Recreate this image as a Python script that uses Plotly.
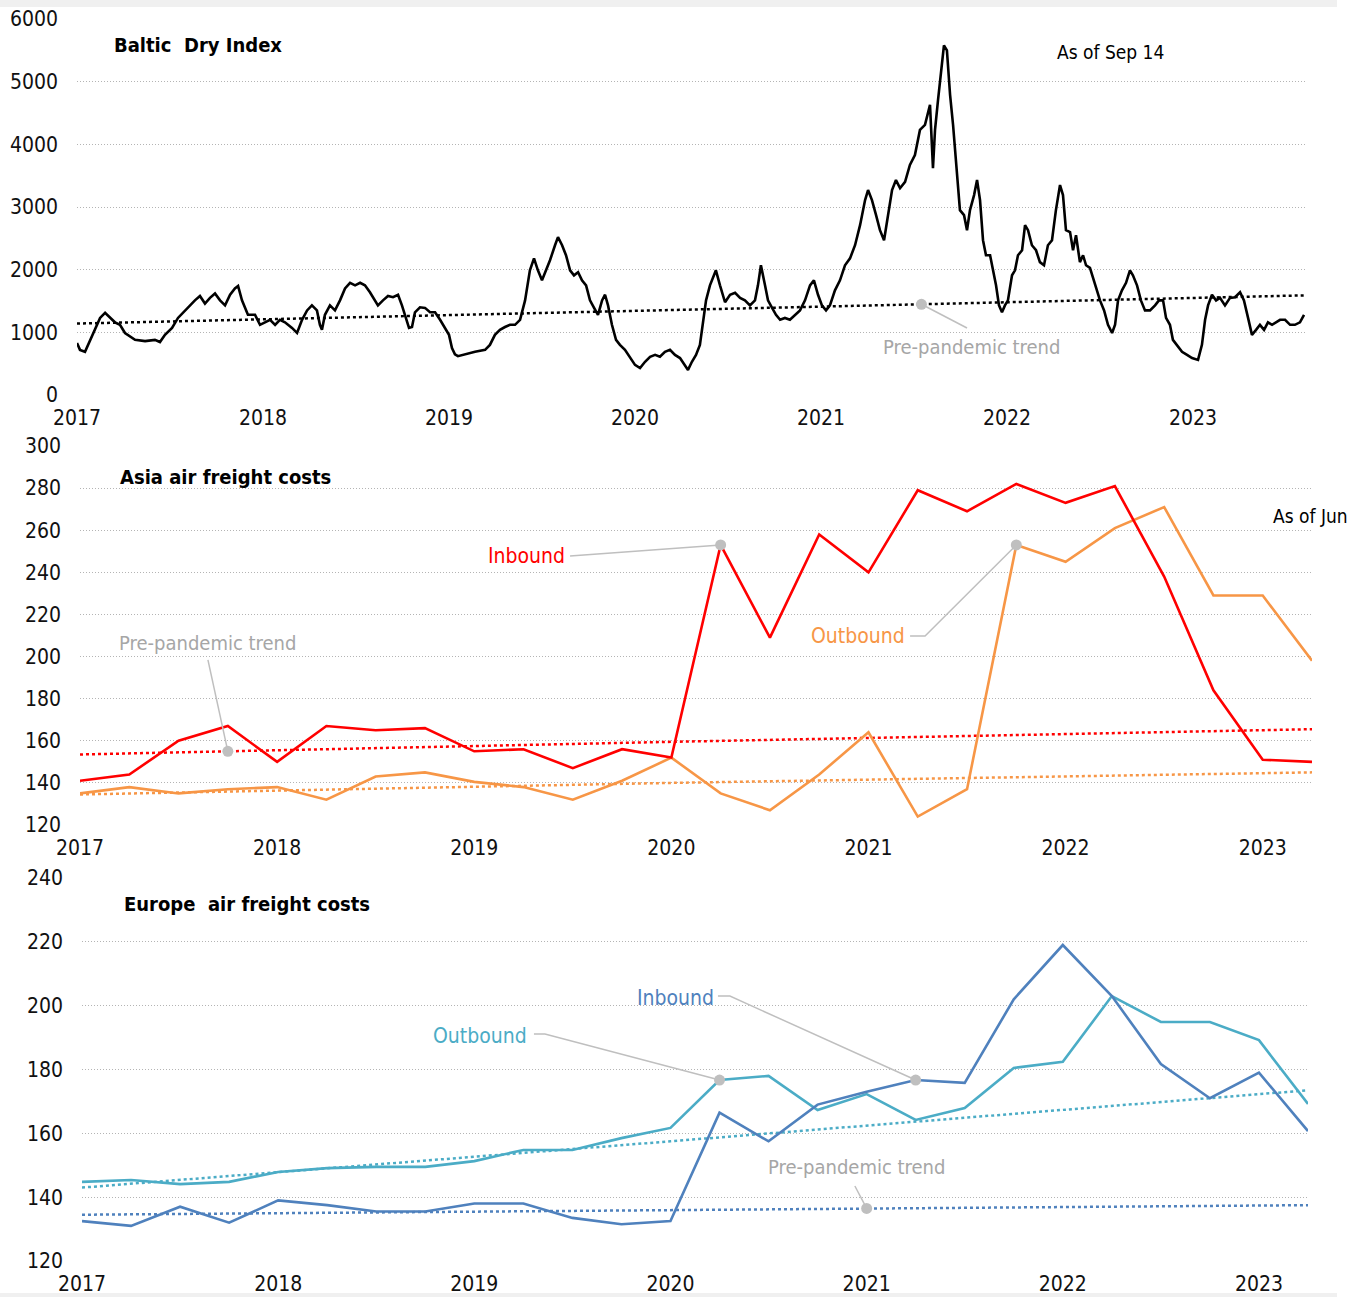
import plotly.graph_objects as go
import numpy as np

W, H = 1371, 1297
FONT = "DejaVu Sans Condensed, Liberation Sans Narrow, Arial Narrow, DejaVu Sans, sans-serif"

# ---------------- Panel 1: Baltic Dry Index ----------------
bdi_year = [
    2017.000, 2017.016, 2017.043, 2017.070, 2017.097, 2017.124, 2017.151, 2017.177, 2017.204, 2017.231,
    2017.258, 2017.312, 2017.366, 2017.419, 2017.446, 2017.473, 2017.511, 2017.543, 2017.581, 2017.608,
    2017.634, 2017.661, 2017.688, 2017.715, 2017.742, 2017.769, 2017.796, 2017.823, 2017.849, 2017.866,
    2017.887, 2017.919, 2017.957, 2017.984, 2018.011, 2018.038, 2018.065, 2018.091, 2018.118, 2018.156,
    2018.183, 2018.210, 2018.237, 2018.263, 2018.290, 2018.306, 2018.317, 2018.333, 2018.360, 2018.387,
    2018.414, 2018.441, 2018.468, 2018.495, 2018.522, 2018.548, 2018.575, 2018.602, 2018.618, 2018.645,
    2018.672, 2018.699, 2018.726, 2018.747, 2018.769, 2018.785, 2018.801, 2018.817, 2018.844, 2018.871,
    2018.898, 2018.925, 2018.952, 2018.978, 2019.000, 2019.016, 2019.032, 2019.048, 2019.086, 2019.140,
    2019.194, 2019.220, 2019.247, 2019.274, 2019.301, 2019.328, 2019.355, 2019.382, 2019.409, 2019.435,
    2019.457, 2019.478, 2019.500, 2019.522, 2019.543, 2019.570, 2019.586, 2019.608, 2019.629, 2019.651,
    2019.672, 2019.694, 2019.715, 2019.737, 2019.758, 2019.780, 2019.801, 2019.823, 2019.839, 2019.855,
    2019.876, 2019.898, 2019.919, 2019.946, 2019.973, 2020.000, 2020.027, 2020.054, 2020.081, 2020.108,
    2020.134, 2020.161, 2020.188, 2020.215, 2020.242, 2020.269, 2020.285, 2020.306, 2020.328, 2020.349,
    2020.366, 2020.382, 2020.403, 2020.425, 2020.435, 2020.457, 2020.484, 2020.511, 2020.538, 2020.565,
    2020.591, 2020.618, 2020.645, 2020.661, 2020.677, 2020.699, 2020.715, 2020.737, 2020.758, 2020.780,
    2020.806, 2020.833, 2020.860, 2020.887, 2020.914, 2020.941, 2020.962, 2020.984, 2021.005, 2021.027,
    2021.048, 2021.075, 2021.102, 2021.129, 2021.156, 2021.183, 2021.210, 2021.237, 2021.253, 2021.274,
    2021.296, 2021.317, 2021.339, 2021.360, 2021.382, 2021.403, 2021.425, 2021.452, 2021.478, 2021.505,
    2021.532, 2021.559, 2021.586, 2021.602, 2021.613, 2021.629, 2021.645, 2021.661, 2021.677, 2021.694,
    2021.710, 2021.726, 2021.747, 2021.769, 2021.785, 2021.801, 2021.823, 2021.839, 2021.855, 2021.871,
    2021.887, 2021.909, 2021.925, 2021.941, 2021.957, 2021.973, 2021.989, 2022.005, 2022.027, 2022.043,
    2022.059, 2022.081, 2022.097, 2022.113, 2022.134, 2022.156, 2022.177, 2022.199, 2022.220, 2022.242,
    2022.263, 2022.285, 2022.301, 2022.317, 2022.339, 2022.355, 2022.371, 2022.392, 2022.409, 2022.425,
    2022.446, 2022.468, 2022.484, 2022.500, 2022.522, 2022.543, 2022.565, 2022.581, 2022.597, 2022.618,
    2022.640, 2022.661, 2022.677, 2022.699, 2022.720, 2022.742, 2022.769, 2022.796, 2022.817, 2022.839,
    2022.855, 2022.876, 2022.892, 2022.914, 2022.941, 2022.968, 2022.995, 2023.027, 2023.048, 2023.065,
    2023.081, 2023.102, 2023.124, 2023.145, 2023.172, 2023.199, 2023.226, 2023.253, 2023.274, 2023.296,
    2023.317, 2023.339, 2023.360, 2023.382, 2023.403, 2023.425, 2023.446, 2023.468, 2023.495, 2023.522,
    2023.548, 2023.575, 2023.597,
]
bdi_value = [
    830, 720, 690, 880, 1040, 1230, 1310, 1230, 1160, 1120,
    990, 880, 860, 880, 845, 960, 1070, 1230, 1350, 1430,
    1510, 1580, 1460, 1550, 1620, 1510, 1430, 1600, 1700, 1740,
    1510, 1280, 1280, 1120, 1160, 1200, 1120, 1200, 1160, 1070,
    990, 1200, 1350, 1430, 1350, 1120, 1040, 1280, 1430, 1350,
    1510, 1700, 1790, 1750, 1790, 1750, 1640, 1510, 1430, 1510,
    1580, 1560, 1600, 1430, 1230, 1070, 1085, 1320, 1400, 1390,
    1320, 1320, 1200, 1070, 960, 750, 650, 620, 650, 690,
    720, 800, 960, 1040, 1085, 1120, 1120, 1200, 1510, 1990,
    2180, 1990, 1830, 1990, 2150, 2390, 2520, 2390, 2230, 1990,
    1910, 1960, 1830, 1750, 1510, 1390, 1280, 1510, 1600, 1430,
    1120, 880, 800, 720, 590, 480, 430, 530, 610, 640,
    610, 690, 720, 640, 590, 460, 400, 530, 640, 800,
    1200, 1510, 1750, 1910, 1990, 1750, 1480, 1600, 1630, 1550,
    1510, 1430, 1510, 1750, 2070, 1750, 1510, 1390, 1280, 1200,
    1230, 1200, 1280, 1350, 1510, 1750, 1830, 1600, 1430, 1350,
    1430, 1670, 1830, 2070, 2180, 2390, 2710, 3110, 3270, 3110,
    2870, 2630, 2470, 2870, 3270, 3430, 3300, 3400, 3670, 3830,
    4230, 4310, 4630, 3620, 4230, 4700, 5180, 5580, 5500, 4790,
    4310, 3750, 2950, 2870, 2630, 2950, 3190, 3430, 3110, 2470,
    2230, 2230, 1990, 1750, 1430, 1320, 1430, 1510, 1910, 1990,
    2230, 2310, 2710, 2630, 2390, 2310, 2120, 2070, 2390, 2470,
    2950, 3350, 3190, 2630, 2600, 2310, 2550, 2120, 2230, 2070,
    2030, 1830, 1670, 1510, 1350, 1120, 990, 1120, 1510, 1670,
    1790, 1990, 1910, 1750, 1510, 1350, 1350, 1430, 1510, 1510,
    1230, 1120, 880, 800, 690, 640, 590, 560, 800, 1200,
    1430, 1600, 1510, 1550, 1430, 1550, 1560, 1640, 1510, 1230,
    960, 1040, 1120, 1040, 1160, 1120, 1160, 1200, 1200, 1120,
    1120, 1160, 1280,
]
bdi_trend_year = [2017.0, 2018.0, 2019.0, 2020.0, 2021.0, 2022.0, 2023.0, 2023.6]
bdi_trend_value = [1140, 1205, 1270, 1340, 1410, 1480, 1550, 1590]

# ---------------- Panels 2 & 3: quarterly air freight costs ----------------
quarters = [2017.0, 2017.25, 2017.5, 2017.75, 2018.0, 2018.25, 2018.5, 2018.75,
            2019.0, 2019.25, 2019.5, 2019.75, 2020.0, 2020.25, 2020.5, 2020.75,
            2021.0, 2021.25, 2021.5, 2021.75, 2022.0, 2022.25, 2022.5, 2022.75,
            2023.0, 2023.25]
asia_inbound = [141, 144, 160, 167, 150, 167, 165, 166, 155, 156, 147, 156, 152,
                253, 209, 258, 240, 279, 269, 282, 273, 281, 238, 184, 151, 150]
asia_outbound = [135, 138, 135, 137, 138, 132, 143, 145, 140.5, 138, 132, 141, 152,
                 135, 127, 144, 164, 124, 137, 253, 245, 261, 271, 229, 229, 198]
asia_trend_year = [2017.0, 2020.0, 2023.25]
asia_inbound_trend = [153.5, 159.5, 165.5]
asia_outbound_trend = [134.5, 140.0, 145.0]

europe_inbound = [132.5, 131, 137, 132, 139, 137.5, 135.5, 135.5, 138, 138, 133.5, 131.5, 132.5,
                  166.5, 157.5, 169, 173, 176.7, 175.8, 202, 219, 203, 181.7, 171, 179, 160.7]
europe_outbound = [144.8, 145.4, 144.1, 144.8, 147.9, 149.1, 149.5, 149.5, 151.3, 154.8, 154.8,
                   158.5, 161.7, 176.7, 178, 167.3, 172.3, 164.2, 167.9, 180.5, 182.4, 203,
                   194.9, 194.9, 189.2, 169.2]
europe_trend_year = [2017.0, 2020.0, 2023.25]
europe_inbound_trend = [134.5, 136.0, 137.5]
europe_outbound_trend = [143.0, 157.5, 173.5]

year_ticks = [2017, 2018, 2019, 2020, 2021, 2022, 2023]
year_labels = ["2017", "2018", "2019", "2020", "2021", "2022", "2023"]

RED = "#ff0000"
ORANGE = "#f79646"
BLUE = "#4f81bd"
TEAL = "#4bacc6"
GREY_LINE = "#bfbfbf"
GREY_TEXT = "#a6a6a6"
GRID = "#b4b4b4"


def pxx(x):
    return x / W


def pxy(y):
    return 1 - y / H


fig = go.Figure()


def line(x, y, color, width, dash=None, xa="x", ya="y"):
    fig.add_trace(go.Scatter(x=x, y=y, mode="lines", xaxis=xa, yaxis=ya,
                             line=dict(color=color, width=width, dash=dash),
                             hoverinfo="skip", showlegend=False))


def dot(x, y, xa, ya):
    fig.add_trace(go.Scatter(x=[x], y=[y], mode="markers", xaxis=xa, yaxis=ya,
                             marker=dict(color=GREY_LINE, size=11),
                             hoverinfo="skip", showlegend=False))


# Panel 1
line(bdi_trend_year, bdi_trend_value, "#000000", 2.5, "dot", "x", "y")
line(bdi_year, bdi_value, "#000000", 2.6, None, "x", "y")
d1x = 2021.54
d1y = float(np.interp(d1x, bdi_trend_year, bdi_trend_value))
line([d1x, 2021.785], [d1y, 1069], GREY_LINE, 1.5, None, "x", "y")
dot(d1x, d1y, "x", "y")

# Panel 2
line(asia_trend_year, asia_outbound_trend, ORANGE, 2.5, "dot", "x2", "y2")
line(asia_trend_year, asia_inbound_trend, RED, 2.5, "dot", "x2", "y2")
line(quarters, asia_outbound, ORANGE, 2.6, None, "x2", "y2")
line(quarters, asia_inbound, RED, 2.6, None, "x2", "y2")
line([2019.486, quarters[13]], [247.8, asia_inbound[13]], GREY_LINE, 1.5, None, "x2", "y2")
line([2021.211, 2021.287, quarters[19]], [209.8, 209.8, asia_outbound[19]], GREY_LINE, 1.5, None, "x2", "y2")
pp2 = float(np.interp(2017.75, asia_trend_year, asia_inbound_trend))
line([2017.649, 2017.75], [198.4, pp2], GREY_LINE, 1.5, None, "x2", "y2")
dot(quarters[13], asia_inbound[13], "x2", "y2")
dot(quarters[19], asia_outbound[19], "x2", "y2")
dot(2017.75, pp2, "x2", "y2")

# Panel 3
line(europe_trend_year, europe_outbound_trend, TEAL, 2.5, "dot", "x3", "y3")
line(europe_trend_year, europe_inbound_trend, BLUE, 2.5, "dot", "x3", "y3")
line(quarters, europe_outbound, TEAL, 2.6, None, "x3", "y3")
line(quarters, europe_inbound, BLUE, 2.6, None, "x3", "y3")
line([2020.242, 2020.303, quarters[17]], [203.0, 203.0, europe_inbound[17]], GREY_LINE, 1.5, None, "x3", "y3")
line([2019.304, 2019.36, quarters[13]], [191.1, 191.1, europe_outbound[13]], GREY_LINE, 1.5, None, "x3", "y3")
pp3 = float(np.interp(2021.0, europe_trend_year, europe_inbound_trend))
line([2020.94, 2021.0], [143.5, pp3], GREY_LINE, 1.5, None, "x3", "y3")
dot(quarters[17], europe_inbound[17], "x3", "y3")
dot(quarters[13], europe_outbound[13], "x3", "y3")
dot(2021.0, pp3, "x3", "y3")

tickfont = dict(family=FONT, size=21, color="#111111")


def xaxis(dom, rng, anchor):
    return dict(domain=dom, range=rng, anchor=anchor, tickmode="array",
                tickvals=year_ticks, ticktext=year_labels, showgrid=False,
                zeroline=False, showline=False, ticks="", tickfont=tickfont,
                ticklabelstandoff=8, fixedrange=True, automargin=False)


def yaxis(dom, rng, dtick, anchor):
    return dict(domain=dom, range=rng, anchor=anchor, dtick=dtick, tick0=0,
                showgrid=True, gridcolor=GRID, gridwidth=1, griddash="1px,2px",
                zeroline=False, showline=False, ticks="", tickfont=tickfont,
                ticklabelstandoff=18, fixedrange=True, automargin=False)


fig.update_layout(
    template="none",
    width=W, height=H, autosize=False,
    margin=dict(l=0, r=0, t=0, b=0, pad=0, autoexpand=False),
    paper_bgcolor="white", plot_bgcolor="rgba(0,0,0,0)",
    font=dict(family=FONT),
    xaxis=xaxis([pxx(77), pxx(1306)], [2017, 2017 + (1306 - 77) / 186], "y"),
    yaxis=yaxis([pxy(395), pxy(19)], [0, 6000], 1000, "x"),
    xaxis2=xaxis([pxx(80), pxx(1312)], [2017, 2023.25], "y2"),
    yaxis2=yaxis([pxy(825), pxy(446)], [120, 300], 20, "x2"),
    xaxis3=xaxis([pxx(82), pxx(1308)], [2017, 2023.25], "y3"),
    yaxis3=yaxis([pxy(1261), pxy(878)], [120, 240], 20, "x3"),
)


def text(t, x, y, color="#000000", size=21, anchor="left", bold=False):
    fig.add_annotation(text=f"<b>{t}</b>" if bold else t, x=pxx(x), y=pxy(y),
                       xref="paper", yref="paper", xanchor=anchor, yanchor="middle",
                       showarrow=False, font=dict(family=FONT, size=size, color=color))


text("Baltic  Dry Index", 112, 45, bold=True, size=20)
text("As of Sep 14", 1055, 52, size=19)
text("Pre-pandemic trend", 971, 347, GREY_TEXT, anchor="center", size=20)

text("Asia air freight costs", 118, 477, bold=True, size=20)
text("As of Jun", 1271, 516, size=19)
text("Inbound", 567, 556, RED, anchor="right")
text("Outbound", 907, 636, ORANGE, anchor="right")
text("Pre-pandemic trend", 117, 643, GREY_TEXT, size=20)

text("Europe  air freight costs", 122, 904, bold=True, size=20)
text("Inbound", 716, 998, BLUE, anchor="right")
text("Outbound", 529, 1036, TEAL, anchor="right")
text("Pre-pandemic trend", 766, 1167, GREY_TEXT, size=20)

# light grey page bands (top and bottom)
fig.add_shape(type="rect", xref="paper", yref="paper", x0=0, x1=pxx(1337), y0=pxy(7), y1=1,
              fillcolor="#f0f0f0", line=dict(width=0), layer="above")
fig.add_shape(type="rect", xref="paper", yref="paper", x0=0, x1=pxx(1337), y0=0, y1=pxy(1293),
              fillcolor="#f0f0f0", line=dict(width=0), layer="above")

fig.write_html(
    "out.html",
    config={"displayModeBar": False},
    post_script="document.body.style.margin='0';document.body.style.padding='0';",
)
